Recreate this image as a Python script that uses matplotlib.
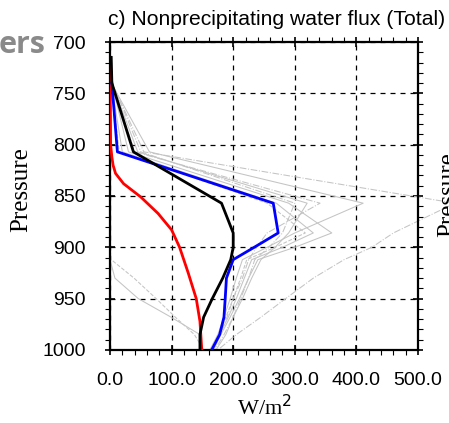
import matplotlib
matplotlib.use("Agg")
import matplotlib.pyplot as plt
import numpy as np
from matplotlib.ticker import MultipleLocator, FormatStrFormatter

# common pressure grid of the model curves (hPa)
levels = [715, 740, 807, 857, 886, 900, 912, 930, 950, 968, 985, 1000]

black_total = [2, 3, 38, 181, 200, 200, 196, 183, 166, 152, 146, 146]
blue_total = [np.nan, 3, 12, 265, 273, 234, 200, 189, 187, 185, 178, 165]

# red curve is on its own (finer) levels
red_levels = [715, 760, 800, 812, 820, 828, 838, 851, 867, 883, 900, 925, 950, 972, 1000]
red_total = [0.5, 0.5, 1, 3, 5, 9, 22, 50, 78, 100, 113, 127, 140, 146, 149]

# thin grey members (value per level, nan = not drawn)
members = [
    [1, 2, 64, 411, 300, 255, 215, 205, 195, 185, 175, 162],
    [2, 3, 55, 560, 460, 425, 380, 330, 285, 245, 205, 175],
    [1, 3, 40, 341, 255, 238, 225, 215, 200, 190, 178, 165],
    [1, 3, 30, 290, 360, 300, 240, 225, 210, 195, 180, 168],
    [1, 2, 20, 270, 330, 280, 230, 218, 205, 192, 178, 165],
    [1, 2, 15, 255, 317, 268, 222, 212, 200, 188, 176, 163],
    [0, 0, 0, 0, 0, 0, 0, 8, 46, 99, 146, 150],
    [0, 0, 0, 0, 0, 0, 2, 39, 75, 106, 137, 152],
    [2, 4, 50, 300, 280, 258, 235, 225, 212, 200, 185, 170],
    [1, 3, 45, 320, 290, 268, 245, 230, 215, 200, 188, 172],
]
member_styles = ['-', '-.', '-.', '-', '-', '--', '-', '--', '-.', '-']

sans = ['Liberation Sans', 'DejaVu Sans']
serif = ['Liberation Serif', 'DejaVu Serif']

fig = plt.figure(figsize=(4.49, 4.23), dpi=100)
ax = fig.add_axes([0.245, 0.1726, 0.686, 0.7281])

for vals, ls in zip(members, member_styles):
    ax.plot(vals, levels, color='#c4c4c4', lw=0.75, ls=ls, clip_on=False, zorder=2)

ax.plot(red_total, red_levels, color='red', lw=2.0, zorder=4)
ax.plot(blue_total, levels, color='blue', lw=2.0, zorder=4)
ax.plot(black_total, levels, color='black', lw=2.0, zorder=5)

ax.set_xlim(0, 500)
ax.set_ylim(1000, 700)
ax.xaxis.set_major_locator(MultipleLocator(100))
ax.xaxis.set_minor_locator(MultipleLocator(20))
ax.yaxis.set_major_locator(MultipleLocator(50))
ax.yaxis.set_minor_locator(MultipleLocator(10))
ax.xaxis.set_major_formatter(FormatStrFormatter('%.1f'))

ax.grid(True, which='major', color='black', ls=(0, (4, 4)), lw=0.9, zorder=1)

for s in ax.spines.values():
    s.set_linewidth(1.6)

ax.tick_params(which='major', direction='inout', length=7, width=1.2,
               top=True, right=True, labelsize=14)
ax.tick_params(axis='x', which='major', pad=12)
ax.tick_params(axis='y', which='major', pad=14)
ax.tick_params(which='minor', direction='out', length=3.5, width=0.8,
               top=True, right=True)
for lab in ax.get_xticklabels() + ax.get_yticklabels():
    lab.set_family(sans)

ax.set_xlabel('W/m$^2$', family=serif, fontsize=16, va='center')
ax.xaxis.set_label_coords(0.503, -0.188)
ax.set_ylabel('Pressure', family=serif, fontsize=18, va='center')
ax.yaxis.set_label_coords(-0.289, 0.52)
ax.text(-0.008, 1.073, 'c) Nonprecipitating water flux (Total)', transform=ax.transAxes,
        family=sans, fontsize=15.2, ha='left', va='center')

# fragments of neighbouring panels / page
fig.text(-0.004, 0.893, 'ers', family=['Open Sans', 'DejaVu Sans'], fontweight='bold',
         fontsize=22, color='#8a8a8a', ha='left', va='center')
fig.text(0.973, 0.539, 'Pressure', family=serif, fontsize=18, rotation=90,
         ha='left', va='center')

fig.savefig('out.png', dpi=100)
